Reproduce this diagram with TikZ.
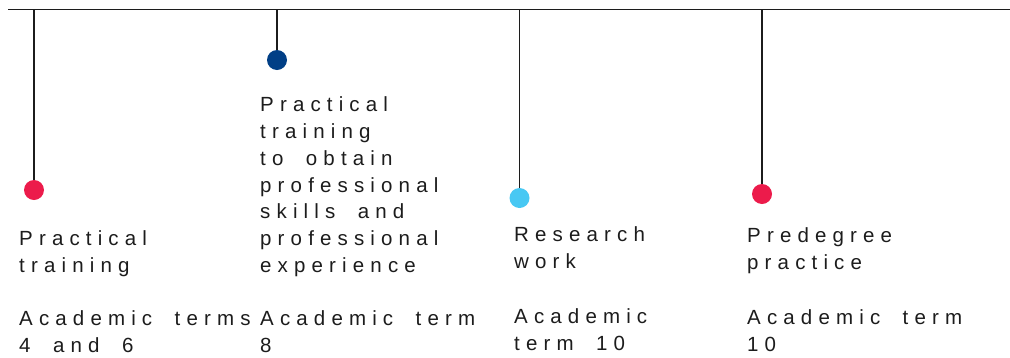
\documentclass[tikz,border=0pt]{standalone}
\usepackage{fontspec}
\setmainfont{Liberation Sans}[LetterSpace=30, WordSpace=1.9]
\usepackage{tikz}

\definecolor{dotred}{HTML}{EC1B4B}
\definecolor{dotnavy}{HTML}{013F86}
\definecolor{dotsky}{HTML}{48C8F3}
\definecolor{inkgray}{HTML}{1C1C1C}

\tikzset{
  stem/.style={draw=inkgray, line width=1.1pt},
  dot/.style={circle, inner sep=0pt, minimum size=20pt, fill=#1},
  label/.style={anchor=base west, inner sep=0pt, align=left, text=inkgray,
    font=\fontsize{20.5}{26.8}\selectfont}
}

\begin{document}
\begin{tikzpicture}[x=1pt, y=-1pt]
  \useasboundingbox (0,0) rectangle (1010,357);
  % timeline
  \coordinate (start) at (8, 9.5);
  \coordinate (end) at (1010, 9.5);
  \draw[stem] (start) -- (end);
  % stations
  \coordinate (top1) at (34, 9.5);
  \coordinate (top2) at (277, 9.5);
  \coordinate (top3) at (519.5, 9.5);
  \coordinate (top4) at (762, 9.5);
  \node[dot=dotred] (dot1) at (34, 190) {};
  \node[dot=dotnavy] (dot2) at (277, 60) {};
  \node[dot=dotsky] (dot3) at (519.5, 198) {};
  \node[dot=dotred] (dot4) at (762, 194) {};
  \draw[stem] (top1) -- (dot1.north);
  \draw[stem] (top2) -- (dot2.north);
  \draw[stem] (top3) -- (dot3.north);
  \draw[stem] (top4) -- (dot4.north);
  % texts (base = last line)
  \node[label] (title1) at (19, 272) {Practical\\training};
  \node[label] (title2) at (260, 272.5) {Practical\\training\\to obtain\\professional\\skills and\\professional\\experience};
  \node[label] (title3) at (514, 268.5) {Research\\work};
  \node[label] (title4) at (747, 269.5) {Predegree\\practice};
  \node[label] (term1) at (19, 352) {Academic terms\\4 and 6};
  \node[label] (term2) at (260, 352) {Academic term\\8};
  \node[label] (term3) at (514, 350) {Academic\\term 10};
  \node[label] (term4) at (747, 351) {Academic term\\10};
\end{tikzpicture}
\end{document}
